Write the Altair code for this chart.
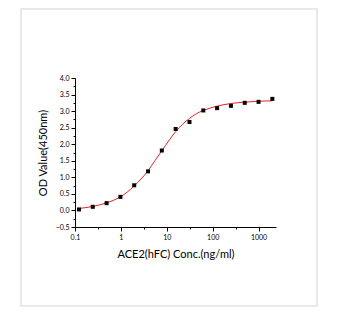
import altair as alt
import pandas as pd

# measured points
conc = [0.122, 0.244, 0.488, 0.977, 1.95, 3.9, 7.8, 15.6, 31.25, 62.5, 125, 250, 500, 1000, 2000]
od = [0.03, 0.11, 0.22, 0.41, 0.76, 1.18, 1.81, 2.46, 2.67, 3.02, 3.09, 3.16, 3.25, 3.28, 3.37]

# fitted curve
fit_conc = [0.122, 0.244, 0.488, 0.977, 1.95, 3.9, 5.5, 7.8, 11, 15.6, 22, 31.25, 44, 62.5, 125, 250, 500, 1000, 2000]
fit_od = [0.06, 0.12, 0.23, 0.41, 0.74, 1.20, 1.50, 1.80, 2.10, 2.38, 2.60, 2.78, 2.92, 3.02, 3.15, 3.23, 3.27, 3.30, 3.31]

x_major = [0.1, 1, 10, 100, 1000]
x_minor = [0.316, 3.16, 31.6, 316]
y_major = [-0.5, 0, 0.5, 1.0, 1.5, 2.0, 2.5, 3.0, 3.5, 4.0]
y_minor = [-0.25, 0.25, 0.75, 1.25, 1.75, 2.25, 2.75, 3.25, 3.75]

pts = pd.DataFrame({"conc": conc, "od": od})
fit = pd.DataFrame({"conc": fit_conc, "od": fit_od})

FONT = "Lato"

xscale = alt.Scale(type="log", domain=[0.1, 2400], nice=False)
yscale = alt.Scale(domain=[-0.5, 4.0], nice=False, zero=False)

common = dict(grid=False, domainColor="black", tickColor="black",
              labelFont=FONT, labelFontSize=7, labelColor="black", labelPadding=2,
              titleFont=FONT, titleFontSize=11, titleFontWeight="normal", titleColor="black",
              labelFlush=False, labelOverlap=False, tickSize=4)

xaxis = alt.Axis(values=x_major, title="ACE2(hFC) Conc.(ng/ml)", orient="bottom",
                 labelExpr="datum.value < 1 ? '0.1' : format(datum.value, 'd')",
                 titlePadding=8, **common)
yaxis = alt.Axis(values=y_major, title="OD Value(450nm)", orient="left", format=".1f",
                 titlePadding=7, **common)

xminor = alt.Axis(values=x_minor, title=None, labels=False, domain=False, grid=False,
                  tickSize=2, tickColor="black", orient="bottom")
yminor = alt.Axis(values=y_minor, title=None, labels=False, domain=False, grid=False,
                  tickSize=2, tickColor="black", orient="left")

frame = alt.Chart(pd.DataFrame({"a": [0]})).mark_rect(
    fill=None, stroke="#e9e9e9", strokeWidth=2
).encode(x=alt.value(-54), x2=alt.value(242), y=alt.value(-69), y2=alt.value(228))

minor = alt.Chart(fit).mark_line(opacity=0).encode(
    x=alt.X("conc:Q", scale=xscale, axis=xminor),
    y=alt.Y("od:Q", scale=yscale, axis=yminor),
)

line = alt.Chart(fit).mark_line(color="#e8211f", strokeWidth=1, interpolate="monotone").encode(
    x=alt.X("conc:Q", scale=xscale, axis=xaxis),
    y=alt.Y("od:Q", scale=yscale, axis=yaxis),
)
points = alt.Chart(pts).mark_point(shape="square", filled=True, color="black", size=16, opacity=1).encode(
    x=alt.X("conc:Q", scale=xscale, axis=None),
    y=alt.Y("od:Q", scale=yscale, axis=None),
)

chart = alt.layer(frame, minor, line, points).resolve_axis(
    x="independent", y="independent"
).properties(
    width=201, height=149,
    padding={"left": 75, "top": 78, "right": 74, "bottom": 93},
    autosize=alt.AutoSizeParams(type="none"),
    background="white",
).configure_view(stroke=None)

chart.save("out.html", embed_options={"renderer": "svg", "actions": False})
